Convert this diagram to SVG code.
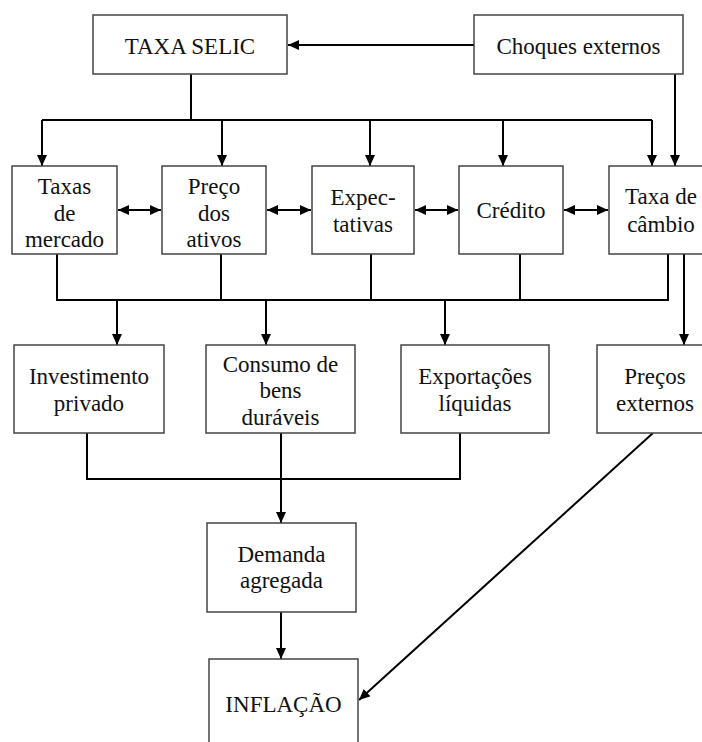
<svg xmlns="http://www.w3.org/2000/svg" width="702" height="742" viewBox="0 0 702 742">
<style>
.box{fill:#fff;stroke:#444;stroke-width:1.5}
.t{font-family:'Liberation Serif',Tinos,'Times New Roman',Times,'Nimbus Roman','DejaVu Serif',serif;font-size:23px;fill:#111;text-anchor:middle}
.c{fill:none;stroke:#000;stroke-width:2}
</style>
<defs>
<marker id="ah" markerUnits="userSpaceOnUse" markerWidth="11" markerHeight="10" refX="11" refY="5" orient="auto-start-reverse" viewBox="0 0 11 10">
<path d="M0,0 L11,5 L0,10 z" fill="#000"/>
</marker>
</defs>
<rect width="702" height="742" fill="#fff"/>
<g id="connectors">
<line class="c" x1="474" y1="45" x2="288" y2="45" marker-end="url(#ah)"/>
<polyline class="c" points="191,74 191,120"/>
<polyline class="c" points="42,120 652,120"/>
<line class="c" x1="42" y1="120" x2="42" y2="166" marker-end="url(#ah)"/>
<line class="c" x1="222" y1="120" x2="222" y2="166" marker-end="url(#ah)"/>
<line class="c" x1="370" y1="120" x2="370" y2="166" marker-end="url(#ah)"/>
<line class="c" x1="503" y1="120" x2="503" y2="166" marker-end="url(#ah)"/>
<line class="c" x1="652" y1="120" x2="652" y2="166" marker-end="url(#ah)"/>
<line class="c" x1="675" y1="74" x2="675" y2="166" marker-end="url(#ah)"/>
<line class="c" x1="118" y1="210" x2="161" y2="210" marker-start="url(#ah)" marker-end="url(#ah)"/>
<line class="c" x1="267" y1="210" x2="311" y2="210" marker-start="url(#ah)" marker-end="url(#ah)"/>
<line class="c" x1="415" y1="210" x2="458" y2="210" marker-start="url(#ah)" marker-end="url(#ah)"/>
<line class="c" x1="564" y1="210" x2="608" y2="210" marker-start="url(#ah)" marker-end="url(#ah)"/>
<polyline class="c" points="57,254 57,300 668,300 668,254"/>
<line class="c" x1="221" y1="254" x2="221" y2="300"/>
<line class="c" x1="371" y1="254" x2="371" y2="300"/>
<line class="c" x1="520" y1="254" x2="520" y2="300"/>
<line class="c" x1="117" y1="300" x2="117" y2="345" marker-end="url(#ah)"/>
<line class="c" x1="266" y1="300" x2="266" y2="345" marker-end="url(#ah)"/>
<line class="c" x1="445" y1="300" x2="445" y2="345" marker-end="url(#ah)"/>
<line class="c" x1="684" y1="254" x2="684" y2="345" marker-end="url(#ah)"/>
<polyline class="c" points="87,433 87,479 460,479 460,433"/>
<line class="c" x1="281" y1="433" x2="281" y2="479"/>
<line class="c" x1="281" y1="479" x2="281" y2="523" marker-end="url(#ah)"/>
<line class="c" x1="281" y1="612" x2="281" y2="659" marker-end="url(#ah)"/>
<line class="c" x1="653" y1="433" x2="359" y2="700" marker-end="url(#ah)"/>
</g>
<g id="selic"><rect class="box" x="93" y="15" width="194" height="59"/><text class="t" x="190" y="54">TAXA SELIC</text></g>
<g id="choques"><rect class="box" x="474" y="15" width="209" height="59"/><text class="t" x="578.5" y="54">Choques externos</text></g>
<g id="taxas"><rect class="box" x="12" y="166" width="105" height="88"/><text class="t" x="64.5" y="194">Taxas</text><text class="t" x="64.5" y="220.5">de</text><text class="t" x="64.5" y="247">mercado</text></g>
<g id="preco"><rect class="box" x="162" y="166" width="104" height="88"/><text class="t" x="214" y="194">Preço</text><text class="t" x="214" y="220.5">dos</text><text class="t" x="214" y="247">ativos</text></g>
<g id="expec"><rect class="box" x="312" y="166" width="102" height="88"/><text class="t" x="363" y="205">Expec-</text><text class="t" x="363" y="232">tativas</text></g>
<g id="credito"><rect class="box" x="459" y="166" width="104" height="88"/><text class="t" x="511" y="218">Crédito</text></g>
<g id="cambio"><rect class="box" x="609" y="166" width="104" height="88"/><text class="t" x="661" y="204">Taxa de</text><text class="t" x="661" y="232">câmbio</text></g>
<g id="investimento"><rect class="box" x="14" y="345" width="150" height="88"/><text class="t" x="89" y="384">Investimento</text><text class="t" x="89" y="411">privado</text></g>
<g id="consumo"><rect class="box" x="206" y="345" width="149" height="88"/><text class="t" x="280.5" y="372">Consumo de</text><text class="t" x="280.5" y="398">bens</text><text class="t" x="280.5" y="425">duráveis</text></g>
<g id="exportacoes"><rect class="box" x="401" y="345" width="148" height="88"/><text class="t" x="475" y="384">Exportações</text><text class="t" x="475" y="411">líquidas</text></g>
<g id="precos-externos"><rect class="box" x="597" y="345" width="116" height="88"/><text class="t" x="655" y="384">Preços</text><text class="t" x="655" y="411">externos</text></g>
<g id="demanda"><rect class="box" x="207" y="523" width="149" height="89"/><text class="t" x="281.5" y="562">Demanda</text><text class="t" x="281.5" y="588">agregada</text></g>
<g id="inflacao"><rect class="box" x="209" y="659" width="149" height="100"/><text class="t" x="283.5" y="712">INFLAÇÃO</text></g>
</svg>
